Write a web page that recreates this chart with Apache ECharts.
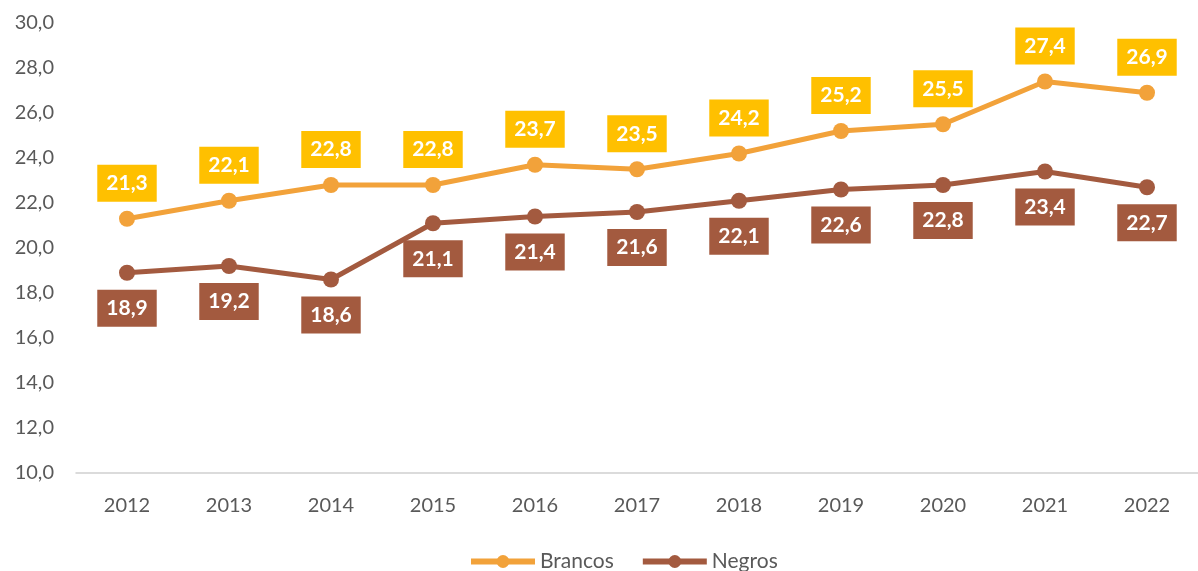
<!DOCTYPE html>
<html>
<head>
<meta charset="utf-8">
<script src="https://cdn.jsdelivr.net/npm/echarts@6/dist/echarts.min.js"></script>
<style>
  html, body { margin: 0; padding: 0; background: #ffffff; }
  #chart { width: 1198px; height: 571px; }
</style>
</head>
<body>
<div id="chart"></div>
<script>
// Anos da série
const years = ['2012', '2013', '2014', '2015', '2016', '2017', '2018', '2019', '2020', '2021', '2022'];
// Valores por grupo
const brancos = [21.3, 22.1, 22.8, 22.8, 23.7, 23.5, 24.2, 25.2, 25.5, 27.4, 26.9];
const negros = [18.9, 19.2, 18.6, 21.1, 21.4, 21.6, 22.1, 22.6, 22.8, 23.4, 22.7];

const fmt = v => v.toFixed(1).replace('.', ',');
const FONT = 'Lato, "Open Sans", sans-serif';

function series(name, data, lineColor, boxColor, pos) {
  return {
    name: name,
    type: 'line',
    data: data,
    symbol: 'circle',
    symbolSize: 16,
    lineStyle: { color: lineColor, width: 5 },
    itemStyle: { color: lineColor },
    label: {
      show: true,
      position: pos,
      distance: 9,
      formatter: p => fmt(p.value),
      backgroundColor: boxColor,
      color: '#ffffff',
      fontFamily: FONT,
      fontWeight: 'bold',
      fontSize: 21,
      padding: [8, 9, 8, 9]
    },
    emphasis: { disabled: true },
    animation: false
  };
}

const chart = echarts.init(document.getElementById('chart'));
chart.setOption({
  backgroundColor: '#ffffff',
  animation: false,
  grid: { left: 76, width: 1127, top: 23, bottom: 98, containLabel: false },
  legend: {
    bottom: -6,
    left: 463,
    itemWidth: 64,
    itemHeight: 16,
    itemGap: 26,
    lineStyle: { width: 6 },
    textStyle: { color: '#595959', fontSize: 21, fontFamily: FONT, padding: [0, 0, 0, 0] },
    data: ['Brancos', 'Negros']
  },
  xAxis: {
    type: 'category',
    data: years,
    boundaryGap: true,
    axisLine: { show: true, lineStyle: { color: '#d0d0d0', width: 1.5 } },
    axisTick: { show: false },
    axisLabel: { color: '#595959', fontSize: 20, fontFamily: FONT, margin: 23 }
  },
  yAxis: {
    type: 'value',
    min: 10,
    max: 30,
    interval: 2,
    splitLine: { show: false },
    axisLine: { show: false },
    axisTick: { show: false },
    axisLabel: { color: '#595959', fontSize: 20, fontFamily: FONT, margin: 22, formatter: v => fmt(v) }
  },
  series: [
    series('Brancos', brancos, '#F2A23A', '#FFC000', 'top'),
    series('Negros', negros, '#A35A3F', '#A35A3F', 'bottom')
  ]
});
</script>
</body>
</html>
